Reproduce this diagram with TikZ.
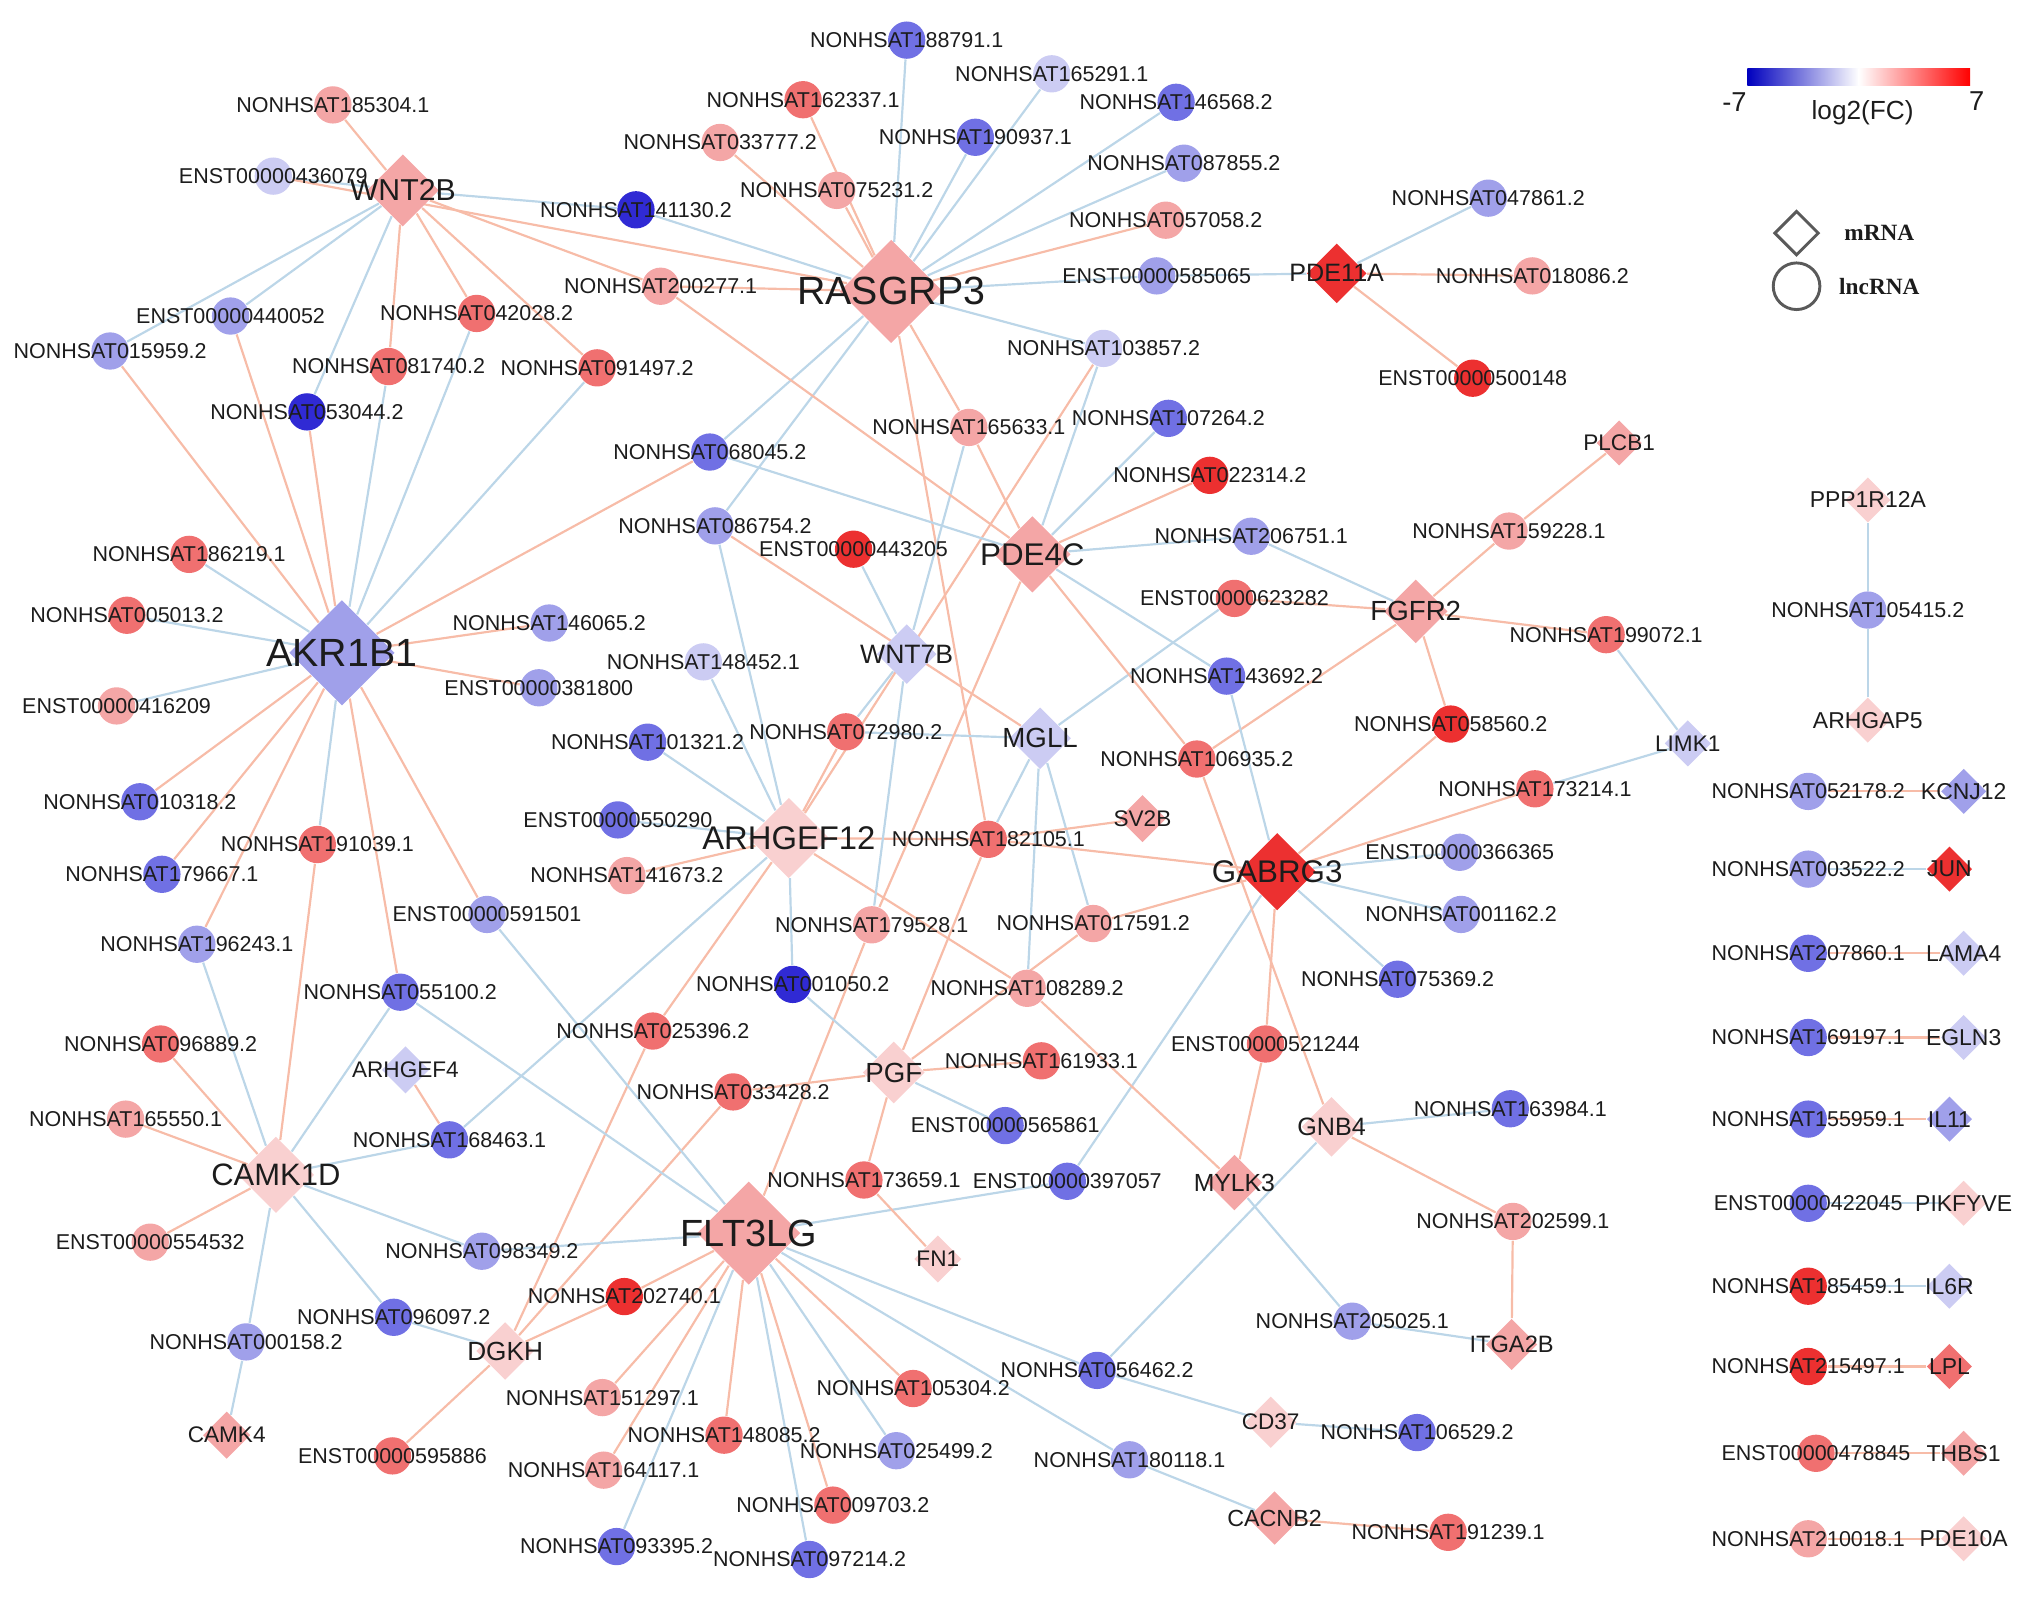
\documentclass[tikz,border=0pt]{standalone}
\usepackage{fontspec}
\setmainfont{Liberation Sans}
\newfontfamily\legserif{Liberation Serif}
\usetikzlibrary{shapes.geometric, backgrounds}

\definecolor{cB1}{RGB}{48,42,212}
\definecolor{cB2}{RGB}{112,112,228}
\definecolor{cB3}{RGB}{160,160,234}
\definecolor{cB4}{RGB}{204,204,243}
\definecolor{cR1}{RGB}{236,48,48}
\definecolor{cR2}{RGB}{240,112,112}
\definecolor{cR3}{RGB}{244,166,166}
\definecolor{cR4}{RGB}{249,208,208}
\definecolor{edgeB}{RGB}{188,214,232}
\definecolor{edgeR}{RGB}{247,188,168}
\definecolor{txt}{RGB}{28,28,28}
\definecolor{legB}{RGB}{0,0,190}
\definecolor{legR}{RGB}{255,0,0}
\definecolor{legline}{RGB}{90,90,90}

\begin{document}
\begin{tikzpicture}[x=0.125mm, y=-0.125mm,
    lnc/.style={circle, fill=#1, minimum size=3.6mm, inner sep=0pt},
    mrna/.style={diamond, fill=#1, minimum size=4.4mm, inner sep=0pt},
    lt/.style={font=\fontsize{5.9}{6}\selectfont, text=txt},
    mt/.style={font=\fontsize{#1}{#1}\selectfont, text=txt},
    eb/.style={draw=edgeB, line width=0.6pt},
    er/.style={draw=edgeR, line width=0.6pt}
]
\useasboundingbox (0,0) rectangle (1568,1234);

% mRNA nodes
\node[mrna=cR3, minimum size=7mm, label={[mt=8.3]center:WNT2B}] (WNT2B) at (311,147) {};
\node[mrna=cR3, minimum size=10mm, label={[mt=10.8]center:RASGRP3}] (RASGRP3) at (688,225) {};
\node[mrna=cR1, minimum size=5.8mm, label={[mt=6.9]center:PDE11A}] (PDE11A) at (1032,211) {};
\node[mrna=cB3, minimum size=10.2mm, label={[mt=10.8]center:AKR1B1}] (AKR1B1) at (264,504) {};
\node[mrna=cR3, minimum size=7.4mm, label={[mt=8.6]center:PDE4C}] (PDE4C) at (797,428) {};
\node[mrna=cR3, label={[mt=6.2]center:PLCB1}] (PLCB1) at (1250,342) {};
\node[mrna=cR3, minimum size=6.2mm, label={[mt=7.6]center:FGFR2}] (FGFR2) at (1093,472) {};
\node[mrna=cB4, minimum size=5.8mm, label={[mt=7.3]center:WNT7B}] (WNT7B) at (700,505) {};
\node[mrna=cB4, minimum size=6mm, label={[mt=7.6]center:MGLL}] (MGLL) at (803,570) {};
\node[mrna=cB4, minimum size=4.5mm, label={[mt=6.2]center:LIMK1}] (LIMK1) at (1303,574) {};
\node[mrna=cR4, minimum size=7.8mm, label={[mt=9]center:ARHGEF12}] (ARHGEF12) at (609,647) {};
\node[mrna=cR3, minimum size=4.6mm, label={[mt=6.2]center:SV2B}] (SV2B) at (882,632) {};
\node[mrna=cR1, minimum size=7.5mm, label={[mt=8.6]center:GABRG3}] (GABRG3) at (986,673) {};
\node[mrna=cB4, minimum size=4.6mm, label={[mt=6.2]center:ARHGEF4}] (ARHGEF4) at (313,826) {};
\node[mrna=cR4, minimum size=6mm, label={[mt=7.6]center:PGF}] (PGF) at (690,828) {};
\node[mrna=cR4, minimum size=5.8mm, label={[mt=6.9]center:GNB4}] (GNB4) at (1028,870) {};
\node[mrna=cR4, minimum size=7.4mm, label={[mt=8.5]center:CAMK1D}] (CAMK1D) at (213,907) {};
\node[mrna=cR3, minimum size=5.4mm, label={[mt=6.8]center:MYLK3}] (MYLK3) at (953,913) {};
\node[mrna=cR3, minimum size=10mm, label={[mt=10.4]center:FLT3LG}] (FLT3LG) at (578,952) {};
\node[mrna=cR4, minimum size=4.6mm, label={[mt=6.2]center:FN1}] (FN1) at (724,972) {};
\node[mrna=cR4, minimum size=5.6mm, label={[mt=7.2]center:DGKH}] (DGKH) at (390,1043) {};
\node[mrna=cR3, minimum size=5mm, label={[mt=6.5]center:ITGA2B}] (ITGA2B) at (1167,1038) {};
\node[mrna=cR4, minimum size=5mm, label={[mt=6.2]center:CD37}] (CD37) at (981,1098) {};
\node[mrna=cR3, minimum size=4.6mm, label={[mt=6.2]center:CAMK4}] (CAMK4) at (175,1108) {};
\node[mrna=cR3, minimum size=5.2mm, label={[mt=6.4]center:CACNB2}] (CACNB2) at (984,1172) {};
\node[mrna=cR4, label={[mt=6.3]center:PPP1R12A}] (PPP1R12A) at (1442,386) {};
\node[mrna=cR4, label={[mt=6.3]center:ARHGAP5}] (ARHGAP5) at (1442,556) {};
\node[mrna=cB3, label={[mt=6.3]center:KCNJ12}] (KCNJ12) at (1516,611) {};
\node[mrna=cR1, label={[mt=6.3]center:JUN}] (JUN) at (1505,671) {};
\node[mrna=cB4, label={[mt=6.3]center:LAMA4}] (LAMA4) at (1516,736) {};
\node[mrna=cB4, label={[mt=6.3]center:EGLN3}] (EGLN3) at (1516,801) {};
\node[mrna=cB3, label={[mt=6.3]center:IL11}] (IL11) at (1505,864) {};
\node[mrna=cR4, label={[mt=6.3]center:PIKFYVE}] (PIKFYVE) at (1516,929) {};
\node[mrna=cB4, label={[mt=6.3]center:IL6R}] (IL6R) at (1505,993) {};
\node[mrna=cR2, label={[mt=6.3]center:LPL}] (LPL) at (1505,1055) {};
\node[mrna=cR3, label={[mt=6.3]center:THBS1}] (THBS1) at (1516,1122) {};
\node[mrna=cR4, label={[mt=6.3]center:PDE10A}] (PDE10A) at (1516,1188) {};

% lncRNA nodes
\node[lnc=cR3, label={[lt]center:NONHSAT185304.1}] (n185304) at (257,81) {};
\node[lnc=cB4, label={[lt]center:ENST00000436079}] (e436079) at (211,136) {};
\node[lnc=cB1, label={[lt]center:NONHSAT141130.2}] (n141130) at (491,162) {};
\node[lnc=cB3, label={[lt]center:ENST00000440052}] (e440052) at (178,244) {};
\node[lnc=cB3, label={[lt]center:NONHSAT015959.2}] (n015959) at (85,271) {};
\node[lnc=cR2, label={[lt]center:NONHSAT042028.2}] (n042028) at (368,242) {};
\node[lnc=cR2, label={[lt]center:NONHSAT081740.2}] (n081740) at (300,283) {};
\node[lnc=cR2, label={[lt]center:NONHSAT091497.2}] (n091497) at (461,284) {};
\node[lnc=cB1, label={[lt]center:NONHSAT053044.2}] (n053044) at (237,318) {};
\node[lnc=cR2, label={[lt]center:NONHSAT186219.1}] (n186219) at (146,428) {};
\node[lnc=cR2, label={[lt]center:NONHSAT005013.2}] (n005013) at (98,475) {};
\node[lnc=cR3, label={[lt]center:ENST00000416209}] (e416209) at (90,545) {};
\node[lnc=cB3, label={[lt]center:NONHSAT146065.2}] (n146065) at (424,481) {};
\node[lnc=cB3, label={[lt]center:ENST00000381800}] (e381800) at (416,531) {};
\node[lnc=cB2, label={[lt]center:NONHSAT010318.2}] (n010318) at (108,619) {};
\node[lnc=cR2, label={[lt]center:NONHSAT191039.1}] (n191039) at (245,652) {};
\node[lnc=cB2, label={[lt]center:NONHSAT179667.1}] (n179667) at (125,675) {};
\node[lnc=cB3, label={[lt]center:ENST00000591501}] (e591501) at (376,706) {};
\node[lnc=cB3, label={[lt]center:NONHSAT196243.1}] (n196243) at (152,729) {};
\node[lnc=cB2, label={[lt]center:NONHSAT055100.2}] (n055100) at (309,766) {};
\node[lnc=cR2, label={[lt]center:NONHSAT096889.2}] (n096889) at (124,806) {};
\node[lnc=cR3, label={[lt]center:NONHSAT165550.1}] (n165550) at (97,864) {};
\node[lnc=cB2, label={[lt]center:NONHSAT168463.1}] (n168463) at (347,880) {};
\node[lnc=cR3, label={[lt]center:ENST00000554532}] (e554532) at (116,959) {};
\node[lnc=cB3, label={[lt]center:NONHSAT098349.2}] (n098349) at (372,966) {};
\node[lnc=cB2, label={[lt]center:NONHSAT096097.2}] (n096097) at (304,1017) {};
\node[lnc=cB3, label={[lt]center:NONHSAT000158.2}] (n000158) at (190,1036) {};
\node[lnc=cR2, label={[lt]center:ENST00000595886}] (e595886) at (303,1124) {};
\node[lnc=cB2, label={[lt]center:NONHSAT188791.1}] (n188791) at (700,31) {};
\node[lnc=cB4, label={[lt]center:NONHSAT165291.1}] (n165291) at (812,57) {};
\node[lnc=cR2, label={[lt]center:NONHSAT162337.1}] (n162337) at (620,77) {};
\node[lnc=cB2, label={[lt]center:NONHSAT146568.2}] (n146568) at (908,79) {};
\node[lnc=cR3, label={[lt]center:NONHSAT033777.2}] (n033777) at (556,110) {};
\node[lnc=cB2, label={[lt]center:NONHSAT190937.1}] (n190937) at (753,106) {};
\node[lnc=cB3, label={[lt]center:NONHSAT087855.2}] (n087855) at (914,126) {};
\node[lnc=cR3, label={[lt]center:NONHSAT075231.2}] (n075231) at (646,147) {};
\node[lnc=cR3, label={[lt]center:NONHSAT057058.2}] (n057058) at (900,170) {};
\node[lnc=cR3, label={[lt]center:NONHSAT200277.1}] (n200277) at (510,221) {};
\node[lnc=cB3, label={[lt]center:ENST00000585065}] (e585065) at (893,213) {};
\node[lnc=cB3, label={[lt]center:NONHSAT047861.2}] (n047861) at (1149,153) {};
\node[lnc=cR3, label={[lt]center:NONHSAT018086.2}] (n018086) at (1183,213) {};
\node[lnc=cR1, label={[lt]center:ENST00000500148}] (e500148) at (1137,292) {};
\node[lnc=cB4, label={[lt]center:NONHSAT103857.2}] (n103857) at (852,269) {};
\node[lnc=cR3, label={[lt]center:NONHSAT165633.1}] (n165633) at (748,330) {};
\node[lnc=cB2, label={[lt]center:NONHSAT107264.2}] (n107264) at (902,323) {};
\node[lnc=cR1, label={[lt]center:NONHSAT022314.2}] (n022314) at (934,367) {};
\node[lnc=cB2, label={[lt]center:NONHSAT068045.2}] (n068045) at (548,349) {};
\node[lnc=cB3, label={[lt]center:NONHSAT086754.2}] (n086754) at (552,406) {};
\node[lnc=cR1, label={[lt]center:ENST00000443205}] (e443205) at (659,424) {};
\node[lnc=cB3, label={[lt]center:NONHSAT206751.1}] (n206751) at (966,414) {};
\node[lnc=cR3, label={[lt]center:NONHSAT159228.1}] (n159228) at (1165,410) {};
\node[lnc=cR2, label={[lt]center:ENST00000623282}] (e623282) at (953,462) {};
\node[lnc=cR2, label={[lt]center:NONHSAT199072.1}] (n199072) at (1240,490) {};
\node[lnc=cB2, label={[lt]center:NONHSAT143692.2}] (n143692) at (947,522) {};
\node[lnc=cB4, label={[lt]center:NONHSAT148452.1}] (n148452) at (543,511) {};
\node[lnc=cR2, label={[lt]center:NONHSAT072980.2}] (n072980) at (653,565) {};
\node[lnc=cB2, label={[lt]center:NONHSAT101321.2}] (n101321) at (500,573) {};
\node[lnc=cR2, label={[lt]center:NONHSAT106935.2}] (n106935) at (924,586) {};
\node[lnc=cR1, label={[lt]center:NONHSAT058560.2}] (n058560) at (1120,559) {};
\node[lnc=cR2, label={[lt]center:NONHSAT173214.1}] (n173214) at (1185,609) {};
\node[lnc=cB2, label={[lt]center:ENST00000550290}] (e550290) at (477,633) {};
\node[lnc=cR3, label={[lt]center:NONHSAT141673.2}] (n141673) at (484,676) {};
\node[lnc=cR2, label={[lt]center:NONHSAT182105.1}] (n182105) at (763,648) {};
\node[lnc=cB3, label={[lt]center:ENST00000366365}] (e366365) at (1127,658) {};
\node[lnc=cR3, label={[lt]center:NONHSAT179528.1}] (n179528) at (673,714) {};
\node[lnc=cR3, label={[lt]center:NONHSAT017591.2}] (n017591) at (844,713) {};
\node[lnc=cB3, label={[lt]center:NONHSAT001162.2}] (n001162) at (1128,706) {};
\node[lnc=cB1, label={[lt]center:NONHSAT001050.2}] (n001050) at (612,760) {};
\node[lnc=cR3, label={[lt]center:NONHSAT108289.2}] (n108289) at (793,763) {};
\node[lnc=cB2, label={[lt]center:NONHSAT075369.2}] (n075369) at (1079,756) {};
\node[lnc=cR2, label={[lt]center:NONHSAT025396.2}] (n025396) at (504,796) {};
\node[lnc=cR2, label={[lt]center:ENST00000521244}] (e521244) at (977,806) {};
\node[lnc=cR2, label={[lt]center:NONHSAT161933.1}] (n161933) at (804,819) {};
\node[lnc=cR2, label={[lt]center:NONHSAT033428.2}] (n033428) at (566,843) {};
\node[lnc=cB2, label={[lt]center:NONHSAT163984.1}] (n163984) at (1166,856) {};
\node[lnc=cB2, label={[lt]center:ENST00000565861}] (e565861) at (776,869) {};
\node[lnc=cR2, label={[lt]center:NONHSAT173659.1}] (n173659) at (667,911) {};
\node[lnc=cB2, label={[lt]center:ENST00000397057}] (e397057) at (824,912) {};
\node[lnc=cR3, label={[lt]center:NONHSAT202599.1}] (n202599) at (1168,943) {};
\node[lnc=cR1, label={[lt]center:NONHSAT202740.1}] (n202740) at (482,1001) {};
\node[lnc=cB3, label={[lt]center:NONHSAT205025.1}] (n205025) at (1044,1020) {};
\node[lnc=cR3, label={[lt]center:NONHSAT151297.1}] (n151297) at (465,1079) {};
\node[lnc=cR2, label={[lt]center:NONHSAT105304.2}] (n105304) at (705,1072) {};
\node[lnc=cB2, label={[lt]center:NONHSAT056462.2}] (n056462) at (847,1058) {};
\node[lnc=cB2, label={[lt]center:NONHSAT106529.2}] (n106529) at (1094,1106) {};
\node[lnc=cR2, label={[lt]center:NONHSAT148085.2}] (n148085) at (559,1108) {};
\node[lnc=cB3, label={[lt]center:NONHSAT025499.2}] (n025499) at (692,1120) {};
\node[lnc=cR3, label={[lt]center:NONHSAT164117.1}] (n164117) at (466,1135) {};
\node[lnc=cB3, label={[lt]center:NONHSAT180118.1}] (n180118) at (872,1127) {};
\node[lnc=cR2, label={[lt]center:NONHSAT009703.2}] (n009703) at (643,1162) {};
\node[lnc=cR2, label={[lt]center:NONHSAT191239.1}] (n191239) at (1118,1183) {};
\node[lnc=cB2, label={[lt]center:NONHSAT093395.2}] (n093395) at (476,1194) {};
\node[lnc=cB2, label={[lt]center:NONHSAT097214.2}] (n097214) at (625,1204) {};
\node[lnc=cB3, label={[lt]center:NONHSAT105415.2}] (n105415) at (1442,471) {};
\node[lnc=cB3, label={[lt]center:NONHSAT052178.2}] (n052178) at (1396,611) {};
\node[lnc=cB3, label={[lt]center:NONHSAT003522.2}] (n003522) at (1396,671) {};
\node[lnc=cB2, label={[lt]center:NONHSAT207860.1}] (n207860) at (1396,736) {};
\node[lnc=cB2, label={[lt]center:NONHSAT169197.1}] (n169197) at (1396,801) {};
\node[lnc=cB2, label={[lt]center:NONHSAT155959.1}] (n155959) at (1396,864) {};
\node[lnc=cB2, label={[lt]center:ENST00000422045}] (e422045) at (1396,929) {};
\node[lnc=cR1, label={[lt]center:NONHSAT185459.1}] (n185459) at (1396,993) {};
\node[lnc=cR1, label={[lt]center:NONHSAT215497.1}] (n215497) at (1396,1055) {};
\node[lnc=cR2, label={[lt]center:ENST00000478845}] (e478845) at (1402,1122) {};
\node[lnc=cR3, label={[lt]center:NONHSAT210018.1}] (n210018) at (1396,1188) {};

% co-expression edges
\begin{scope}[on background layer]
\path (WNT2B) edge[er] (n185304) edge[er] (n081740) edge[er] (n042028) edge[er] (n091497) edge[er] (n200277)
  edge[eb] (e436079) edge[eb] (n141130) edge[eb] (e440052) edge[eb] (n015959) edge[eb] (n053044);
\path (RASGRP3) edge[eb] (n188791) edge[eb] (n165291) edge[eb] (n146568) edge[eb] (n190937) edge[eb] (n087855)
  edge[eb] (n141130) edge[eb] (e585065) edge[eb] (n103857) edge[eb] (n068045) edge[eb] (n086754)
  edge[er] (n162337) edge[er] (n033777) edge[er] (n075231) edge[er] (n057058) edge[er] (n200277)
  edge[er] (e436079) edge[er] (n165633) edge[er] (n182105);
\path (PDE11A) edge[eb] (e585065) edge[eb] (n047861) edge[er] (n018086) edge[er] (e500148);
\path (AKR1B1) edge[er] (n015959) edge[er] (e440052) edge[er] (n053044) edge[er] (n068045) edge[er] (n146065)
  edge[er] (e381800) edge[er] (n010318) edge[er] (n179667) edge[er] (n196243) edge[er] (n055100) edge[er] (e591501)
  edge[eb] (n081740) edge[eb] (n042028) edge[eb] (n091497) edge[eb] (n186219) edge[eb] (n005013)
  edge[eb] (e416209) edge[eb] (n191039);
\path (CAMK1D) edge[er] (n191039) edge[er] (n096889) edge[er] (n165550) edge[er] (e554532)
  edge[eb] (n196243) edge[eb] (n055100) edge[eb] (n168463) edge[eb] (n098349) edge[eb] (n096097) edge[eb] (n000158);
\path (CAMK4) edge[eb] (n000158);
\path (ARHGEF4) edge[er] (n168463);
\path (DGKH) edge[eb] (n096097) edge[er] (e595886) edge[er] (n202740) edge[er] (n033428) edge[er] (n025396);
\path (FLT3LG) edge[er] (n202740) edge[er] (n151297) edge[er] (n164117) edge[er] (n148085) edge[er] (n009703)
  edge[er] (n105304) edge[er] (n179528)
  edge[eb] (n098349) edge[eb] (n055100) edge[eb] (e591501) edge[eb] (n093395) edge[eb] (n097214)
  edge[eb] (n025499) edge[eb] (n056462) edge[eb] (n180118) edge[eb] (e397057);
\path (ARHGEF12) edge[eb] (n086754) edge[eb] (n148452) edge[eb] (n101321) edge[eb] (e550290) edge[eb] (n001050)
  edge[eb] (n168463) edge[er] (n141673) edge[er] (n072980) edge[er] (n182105) edge[er] (n025396)
  edge[er] (n108289) edge[er] (n103857);
\path (WNT7B) edge[eb] (e443205) edge[eb] (n165633) edge[eb] (n072980) edge[eb] (n179528);
\path (MGLL) edge[eb] (n072980) edge[eb] (e623282) edge[eb] (n182105) edge[eb] (n108289) edge[eb] (n017591)
  edge[er] (n086754);
\path (PDE4C) edge[er] (n165633) edge[er] (n200277) edge[er] (n022314) edge[er] (n106935) edge[er] (n179528)
  edge[eb] (n068045) edge[eb] (n103857) edge[eb] (n107264) edge[eb] (n206751) edge[eb] (n143692);
\path (FGFR2) edge[er] (e623282) edge[er] (n159228) edge[er] (n199072) edge[er] (n058560) edge[er] (n106935)
  edge[eb] (n206751);
\path (PLCB1) edge[er] (n159228);
\path (LIMK1) edge[eb] (n199072) edge[eb] (n173214);
\path (GABRG3) edge[er] (n182105) edge[er] (n017591) edge[er] (n058560) edge[er] (n173214) edge[er] (e521244)
  edge[eb] (n143692) edge[eb] (e366365) edge[eb] (n001162) edge[eb] (n075369) edge[eb] (e397057);
\path (GNB4) edge[er] (n106935) edge[er] (n202599) edge[eb] (n163984) edge[eb] (n056462);
\path (MYLK3) edge[er] (e521244) edge[er] (n108289) edge[eb] (n205025);
\path (ITGA2B) edge[er] (n202599) edge[eb] (n205025);
\path (CD37) edge[eb] (n056462) edge[eb] (n106529);
\path (CACNB2) edge[eb] (n180118) edge[er] (n191239);
\path (PGF) edge[eb] (n001050) edge[eb] (e565861) edge[er] (n033428) edge[er] (n161933) edge[er] (n173659)
  edge[er] (n017591) edge[er] (n182105);
\path (FN1) edge[er] (n173659);
\path (SV2B) edge[er] (n182105);
\path (n105415) edge[eb] (PPP1R12A) edge[eb] (ARHGAP5);
\path (KCNJ12) edge[er] (n052178);
\path (JUN) edge[eb] (n003522);
\path (LAMA4) edge[er] (n207860);
\path (EGLN3) edge[er] (n169197);
\path (IL11) edge[er] (n155959);
\path (PIKFYVE) edge[eb] (e422045);
\path (IL6R) edge[eb] (n185459);
\path (LPL) edge[er] (n215497);
\path (THBS1) edge[er] (e478845);
\path (PDE10A) edge[er] (n210018);
\end{scope}

% legend
\shade[left color=legB, right color=white] (1349,53) rectangle (1435,66);
\shade[left color=white, right color=legR] (1435,53) rectangle (1521,66);
\node[mt=7.5] (lmin) at (1339,79) {-7};
\node[mt=7.5] (lmax) at (1526,78) {7};
\node[mt=7.2] (lfc) at (1438,87) {log2(FC)};
\node[diamond, draw=legline, line width=0.8pt, minimum size=4.3mm, inner sep=0pt] (legm) at (1387,180) {};
\node[circle, draw=legline, line width=0.8pt, minimum size=4.5mm, inner sep=0pt] (legl) at (1387,221) {};
\node[anchor=west, font=\legserif\bfseries\fontsize{6.4}{7}\selectfont, text=txt] (legmt) at (1414,180) {mRNA};
\node[anchor=west, font=\legserif\bfseries\fontsize{6.4}{7}\selectfont, text=txt] (leglt) at (1410,221) {lncRNA};
\end{tikzpicture}
\end{document}
